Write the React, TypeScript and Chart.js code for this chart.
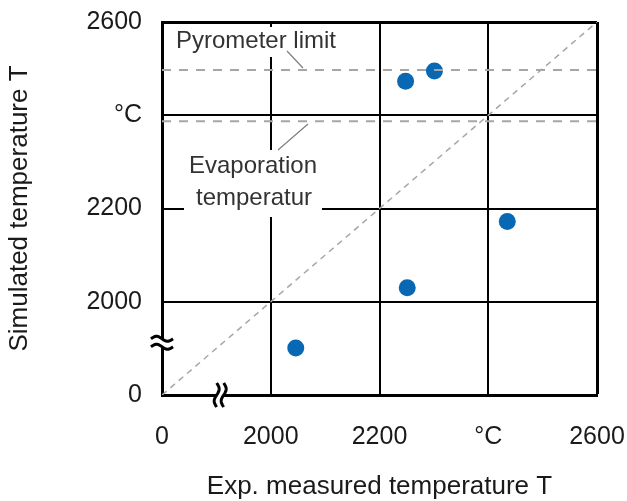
import React, { useEffect, useRef } from 'react';
import { Chart, registerables } from 'chart.js';

Chart.register(...registerables);

// ---- data ----
const tickValues = [1800, 2000, 2200, 2400, 2600];
const xTickLabels = ['0', '2000', '2200', '°C', '2600'];
const yTickLabels = ['0', '2000', '2200', '°C', '2600'];
const measuredT = [2046, 2248, 2301, 2251, 2435];
const simulatedT = [1901, 2473, 2495, 2030, 2172];
const pyrometerLimit = 2497;
const evaporationTemp = 2387;
const axisMin = 1800;
const axisMax = 2600;
const xBreakValue = 1907;
const yBreakValue = 1912;

const FONT = '"Liberation Sans", Arial, Helvetica, sans-serif';

const annotationPlugin = {
  id: 'annotations',
  beforeDatasetsDraw(chart: any) {
    const { ctx } = chart;
    ctx.save();
    ctx.fillStyle = '#ffffff';
    ctx.fillRect(172, 27, 168, 30);
    ctx.fillRect(184, 150, 138, 67);
    ctx.restore();
  },
  afterDatasetsDraw(chart: any) {
    const { ctx } = chart;
    ctx.save();
    ctx.font = `24px ${FONT}`;
    ctx.fillStyle = '#333333';
    ctx.textAlign = 'center';
    ctx.textBaseline = 'middle';
    ctx.fillText('Pyrometer limit', 256, 41);
    ctx.fillText('Evaporation', 253, 166);
    ctx.fillText('temperatur', 254, 198);
    ctx.strokeStyle = '#7f7f7f';
    ctx.lineWidth = 1.2;
    ctx.beginPath();
    ctx.moveTo(287, 51);
    ctx.lineTo(303, 68);
    ctx.moveTo(278, 150);
    ctx.lineTo(308, 124);
    ctx.stroke();
    ctx.restore();
  },
  afterDraw(chart: any) {
    const { ctx, scales } = chart;
    const x = scales.x;
    const y = scales.y;
    const yb = y.getPixelForValue(yBreakValue);
    const yl = chart.chartArea.left;
    const xb = x.getPixelForValue(xBreakValue);
    const xbY = chart.chartArea.bottom;
    ctx.save();
    ctx.strokeStyle = '#000';
    ctx.lineWidth = 3;
    ctx.fillStyle = '#fff';
    ctx.fillRect(yl - 4, yb - 4, 8, 8);
    for (const d of [-4, 4]) {
      ctx.beginPath();
      for (let i = 0; i <= 22; i++) {
        const px = yl - 11 + i;
        const py = yb + d - 2.5 * Math.sin((i / 22) * Math.PI * 2);
        if (i === 0) ctx.moveTo(px, py);
        else ctx.lineTo(px, py);
      }
      ctx.stroke();
    }
    ctx.fillRect(xb - 3, xbY - 4, 6, 8);
    for (const d of [-3.5, 3.5]) {
      ctx.beginPath();
      for (let i = 0; i <= 24; i++) {
        const py = xbY - 12 + i;
        const px = xb + d + 2.5 * Math.sin((i / 24) * Math.PI * 2);
        if (i === 0) ctx.moveTo(px, py);
        else ctx.lineTo(px, py);
      }
      ctx.stroke();
    }
    ctx.restore();
  },
};

export default function App() {
  const canvasRef = useRef<HTMLCanvasElement | null>(null);

  useEffect(() => {
    document.body.style.margin = '0';
    const canvas = canvasRef.current;
    if (!canvas) return;

    const gridWidth = (c: any) => (c.tick && c.tick.value === axisMax ? 3 : 2);

    const chart = new Chart(canvas, {
      type: 'scatter',
      data: {
        datasets: [
          {
            label: 'Pyrometer limit',
            data: [
              { x: axisMin, y: pyrometerLimit },
              { x: axisMax, y: pyrometerLimit },
            ],
            showLine: true,
            borderColor: '#a6a6a6',
            borderWidth: 2,
            borderDash: [9, 8],
            pointRadius: 0,
          },
          {
            label: 'Evaporation temperature',
            data: [
              { x: axisMin, y: evaporationTemp },
              { x: axisMax, y: evaporationTemp },
            ],
            showLine: true,
            borderColor: '#a6a6a6',
            borderWidth: 2,
            borderDash: [9, 8],
            pointRadius: 0,
          },
          {
            label: 'Identity',
            data: [
              { x: axisMin, y: axisMin },
              { x: axisMax, y: axisMax },
            ],
            showLine: true,
            borderColor: '#a6a6a6',
            borderWidth: 1.5,
            borderDash: [6, 5],
            pointRadius: 0,
          },
          {
            label: 'Measurements',
            data: measuredT.map((v, i) => ({ x: v, y: simulatedT[i] })),
            showLine: false,
            pointRadius: 8.5,
            pointBackgroundColor: '#0868b4',
            pointBorderWidth: 0,
            backgroundColor: '#0868b4',
          },
        ],
      },
      options: {
        animation: false,
        responsive: true,
        maintainAspectRatio: false,
        layout: { padding: { top: 22, right: 30, left: 0, bottom: 0 } },
        plugins: {
          legend: { display: false },
          tooltip: { enabled: false },
        },
        scales: {
          x: {
            type: 'linear',
            min: axisMin,
            max: axisMax,
            afterFit: (s: any) => {
              s.height = 106;
              s.paddingLeft = 0;
              s.paddingRight = 0;
            },
            afterBuildTicks: (s: any) => {
              s.ticks = tickValues.map((v) => ({ value: v }));
            },
            ticks: {
              autoSkip: false,
              maxRotation: 0,
              padding: 27,
              color: '#1a1a1a',
              font: { family: FONT, size: 25 },
              callback: (v: any) => {
                const i = tickValues.indexOf(Number(v));
                return i >= 0 ? xTickLabels[i] : '';
              },
            },
            grid: { color: '#000', lineWidth: gridWidth, drawTicks: false },
            border: { color: '#000', width: 3 },
            title: {
              display: true,
              text: 'Exp. measured temperature T',
              color: '#1a1a1a',
              font: { family: FONT, size: 26, lineHeight: 1 },
              padding: { top: 0, bottom: 1 },
            },
          },
          y: {
            type: 'linear',
            min: axisMin,
            max: axisMax,
            afterFit: (s: any) => {
              s.width = 162;
              s.paddingTop = 0;
              s.paddingBottom = 0;
            },
            afterBuildTicks: (s: any) => {
              s.ticks = tickValues.map((v) => ({ value: v }));
            },
            ticks: {
              autoSkip: false,
              padding: 20,
              color: '#1a1a1a',
              font: { family: FONT, size: 25 },
              callback: (v: any) => {
                const i = tickValues.indexOf(Number(v));
                return i >= 0 ? yTickLabels[i] : '';
              },
            },
            grid: { color: '#000', lineWidth: gridWidth, drawTicks: false },
            border: { color: '#000', width: 3 },
            title: {
              display: true,
              text: 'Simulated temperature T',
              color: '#1a1a1a',
              font: { family: FONT, size: 26, lineHeight: 1 },
              padding: { top: 7, bottom: 0 },
            },
          },
        },
      },
      plugins: [annotationPlugin],
    });

    return () => {
      chart.destroy();
    };
  }, []);

  return (
    <div style={{ width: 627, height: 501, position: 'relative', background: '#fff' }}>
      <canvas ref={canvasRef} />
    </div>
  );
}
